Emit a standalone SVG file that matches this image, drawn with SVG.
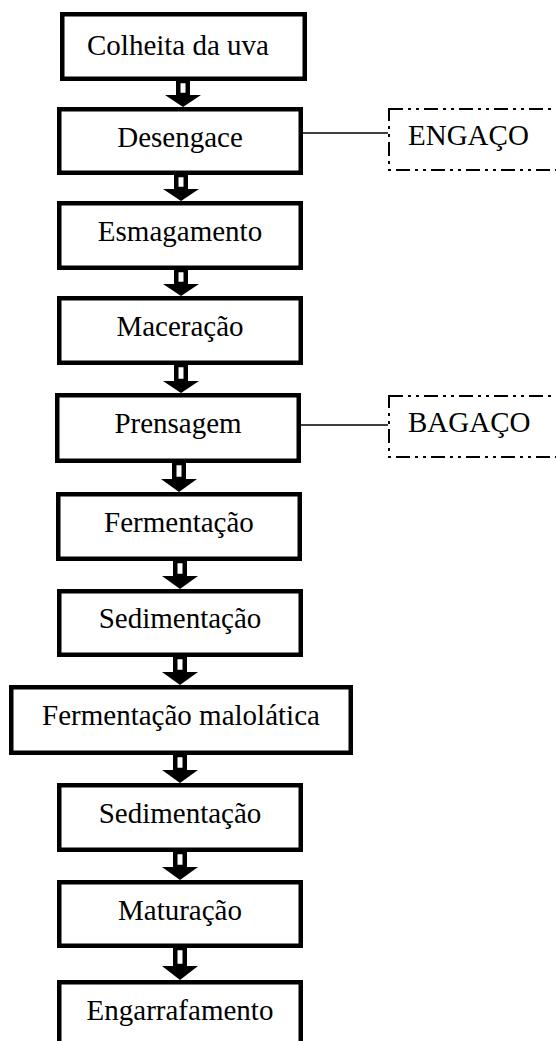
<svg xmlns="http://www.w3.org/2000/svg" width="556" height="1041" viewBox="0 0 556 1041">
<style>
.box{fill:#fff;stroke:#000;stroke-width:4.5}
.side{fill:#fff;stroke:#000;stroke-width:2;stroke-dasharray:14 5 3 5 3 5}
text{font-family:'Liberation Serif','Times New Roman',serif;font-size:29px;fill:#000}
.t{text-anchor:middle}
.ts{text-anchor:start}
.shaft{fill:#fff;stroke:#000;stroke-width:4.5}
.head{fill:#000;stroke:none}
.ln{stroke:#000;stroke-width:1.5;fill:none}
</style>
<rect width="556" height="1041" fill="#fff"/>
<g id="connectors">
  <line class="ln" x1="303" y1="133" x2="388" y2="133"/>
  <line class="ln" x1="301" y1="425" x2="388" y2="425"/>
  <g id="a1"><rect class="shaft" x="178.25" y="81" width="9.5" height="14"/><polygon class="head" points="165,95 201,95 183,107"/></g>
  <g id="a2"><rect class="shaft" x="176.25" y="175" width="9.5" height="14"/><polygon class="head" points="163,189 199,189 181,201"/></g>
  <g id="a3"><rect class="shaft" x="176.25" y="270" width="9.5" height="14"/><polygon class="head" points="163,284 199,284 181,296"/></g>
  <g id="a4"><rect class="shaft" x="176.25" y="365" width="9.5" height="16"/><polygon class="head" points="163,381 199,381 181,393"/></g>
  <g id="a5"><rect class="shaft" x="174.25" y="463" width="9.5" height="16"/><polygon class="head" points="161,479 197,479 179,492"/></g>
  <g id="a6"><rect class="shaft" x="175.25" y="561" width="9.5" height="15"/><polygon class="head" points="162,576 198,576 180,589"/></g>
  <g id="a7"><rect class="shaft" x="175.25" y="657" width="9.5" height="15"/><polygon class="head" points="162,672 198,672 180,685"/></g>
  <g id="a8"><rect class="shaft" x="175.25" y="755" width="9.5" height="15"/><polygon class="head" points="162,770 198,770 180,783"/></g>
  <g id="a9"><rect class="shaft" x="175.25" y="852" width="9.5" height="15"/><polygon class="head" points="162,867 198,867 180,880"/></g>
  <g id="a10"><rect class="shaft" x="175.25" y="948" width="9.5" height="18"/><polygon class="head" points="162,966 198,966 180,980"/></g>
</g>
<g id="n1"><rect class="box" x="62.25" y="14.25" width="242.5" height="64.5"/><text class="t" x="178" y="55">Colheita da uva</text></g>
<g id="n2"><rect class="box" x="59.25" y="109.25" width="241.5" height="63.5"/><text class="t" x="180" y="147">Desengace</text></g>
<g id="n3"><rect class="box" x="59.25" y="203.25" width="241.5" height="64.5"/><text class="t" x="180" y="241">Esmagamento</text></g>
<g id="n4"><rect class="box" x="59.25" y="298.25" width="241.5" height="64.5"/><text class="t" x="180" y="336">Maceração</text></g>
<g id="n5"><rect class="box" x="57.25" y="395.25" width="241.5" height="65.5"/><text class="t" x="178" y="433">Prensagem</text></g>
<g id="n6"><rect class="box" x="58.25" y="494.25" width="241.5" height="64.5"/><text class="t" x="179" y="532">Fermentação</text></g>
<g id="n7"><rect class="box" x="59.25" y="591.25" width="241.5" height="63.5"/><text class="t" x="180" y="628">Sedimentação</text></g>
<g id="n8"><rect class="box" x="11.25" y="687.25" width="339.5" height="65.5"/><text class="t" x="181" y="725">Fermentação malolática</text></g>
<g id="n9"><rect class="box" x="59.25" y="785.25" width="241.5" height="64.5"/><text class="t" x="180" y="823">Sedimentação</text></g>
<g id="n10"><rect class="box" x="59.25" y="882.25" width="241.5" height="63.5"/><text class="t" x="180" y="920">Maturação</text></g>
<g id="n11"><rect class="box" x="59.25" y="982.25" width="241.5" height="64.5"/><text class="t" x="180" y="1020">Engarrafamento</text></g>
<g id="s1"><rect class="side" x="389" y="109" width="190" height="61"/><text class="ts" x="408" y="145">ENGAÇO</text></g>
<g id="s2"><rect class="side" x="389" y="396" width="190" height="61"/><text class="ts" x="408" y="432">BAGAÇO</text></g>
</svg>
